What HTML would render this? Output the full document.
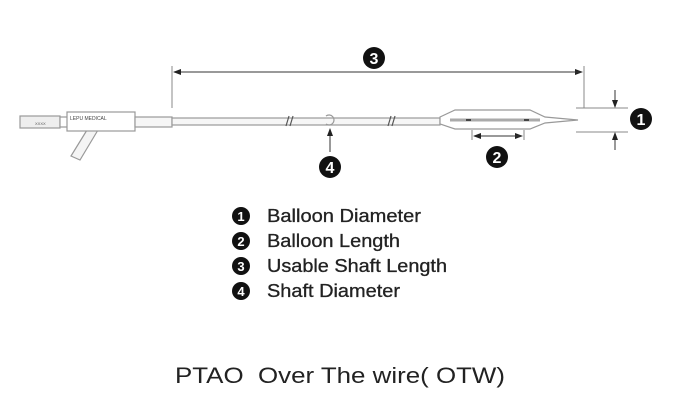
<!DOCTYPE html>
<html><head><style>
body{margin:0;background:#fff;width:680px;height:411px;overflow:hidden;font-family:"Liberation Sans",Arial,sans-serif}
</style></head><body>
<svg width="680" height="411" viewBox="0 0 680 411" xmlns="http://www.w3.org/2000/svg">
<defs><marker id="a" markerWidth="8" markerHeight="8" refX="7" refY="4" orient="auto" markerUnits="userSpaceOnUse"><path d="M0,1 L8,4 L0,7z" fill="#222"/></marker></defs>
<g stroke="#999" stroke-width="1.2" fill="#fff">
<rect x="20" y="116" width="40" height="12" fill="#eee"/>
<rect x="60" y="117" width="8" height="10"/>
<path d="M98,130 L80,160 L71,156 L87,130z" fill="#f4f4f4"/>
<rect x="67" y="112" width="68" height="19"/>
<rect x="135" y="117" width="37" height="10" fill="#f6f6f6"/>
<rect x="172" y="118" width="268" height="7" fill="#f6f6f6"/>
<path d="M440,117 L455,110 L530,110 L545,117 L578,120 L545,123 L530,129 L455,129 L440,124z"/>
<line x1="450" y1="120" x2="540" y2="120" stroke="#aaa" stroke-width="3"/>
<path d="M326,116 a5,5 0 1 1 0,8" fill="none"/>
</g>
<g stroke="#555" stroke-width="1.2">
<line x1="286" y1="126" x2="289" y2="116"/><line x1="290" y1="126" x2="293" y2="116"/>
<line x1="388" y1="126" x2="391" y2="116"/><line x1="392" y1="126" x2="395" y2="116"/>
<line x1="466" y1="120" x2="471" y2="120" stroke="#444" stroke-width="2"/>
<line x1="524" y1="120" x2="529" y2="120" stroke="#444" stroke-width="2"/>
</g>
<text x="35" y="125" font-size="4" fill="#555">XXXX</text>
<text x="70" y="120" font-size="5" fill="#444">LEPU MEDICAL</text>
<g stroke="#333" stroke-width="1" fill="none">
<line x1="172" y1="66" x2="172" y2="108" stroke="#888"/>
<line x1="584" y1="66" x2="584" y2="108" stroke="#888"/>
<line x1="174" y1="72" x2="582" y2="72" marker-end="url(#a)"/>
<line x1="582" y1="72" x2="174" y2="72" marker-end="url(#a)"/>
<line x1="576" y1="108" x2="628" y2="108" stroke="#888"/>
<line x1="576" y1="132" x2="628" y2="132" stroke="#888"/>
<line x1="615" y1="90" x2="615" y2="107" marker-end="url(#a)"/>
<line x1="615" y1="150" x2="615" y2="133" marker-end="url(#a)"/>
<line x1="472" y1="130" x2="472" y2="140" stroke="#888"/>
<line x1="524" y1="130" x2="524" y2="140" stroke="#888"/>
<line x1="474" y1="136" x2="522" y2="136" marker-end="url(#a)"/>
<line x1="522" y1="136" x2="474" y2="136" marker-end="url(#a)"/>
<line x1="330" y1="152" x2="330" y2="129" marker-end="url(#a)"/>
</g>
<g font-weight="bold" text-anchor="middle" fill="#fff">
<circle cx="374" cy="58" r="11" fill="#111"/><text x="374" y="64" font-size="16">3</text>
<circle cx="641" cy="119" r="11" fill="#111"/><text x="641" y="125" font-size="16">1</text>
<circle cx="497" cy="157" r="11" fill="#111"/><text x="497" y="163" font-size="16">2</text>
<circle cx="330" cy="167" r="11" fill="#111"/><text x="330" y="173" font-size="16">4</text>
<circle cx="241" cy="216" r="9" fill="#111"/><text x="241" y="221" font-size="13">1</text>
<circle cx="241" cy="241" r="9" fill="#111"/><text x="241" y="246" font-size="13">2</text>
<circle cx="241" cy="266" r="9" fill="#111"/><text x="241" y="271" font-size="13">3</text>
<circle cx="241" cy="291" r="9" fill="#111"/><text x="241" y="296" font-size="13">4</text>
</g>
<g font-size="18" fill="#222" stroke="#222" stroke-width="0.3">
<text x="267" y="222" textLength="154" lengthAdjust="spacingAndGlyphs">Balloon Diameter</text>
<text x="267" y="247" textLength="133" lengthAdjust="spacingAndGlyphs">Balloon Length</text>
<text x="267" y="272" textLength="180" lengthAdjust="spacingAndGlyphs">Usable Shaft Length</text>
<text x="267" y="297" textLength="133" lengthAdjust="spacingAndGlyphs">Shaft Diameter</text>
</g>
<text x="175" y="383" font-size="22" fill="#222" textLength="330" lengthAdjust="spacingAndGlyphs" xml:space="preserve">PTAO  Over The wire( OTW)</text>
</svg>
</body></html>
